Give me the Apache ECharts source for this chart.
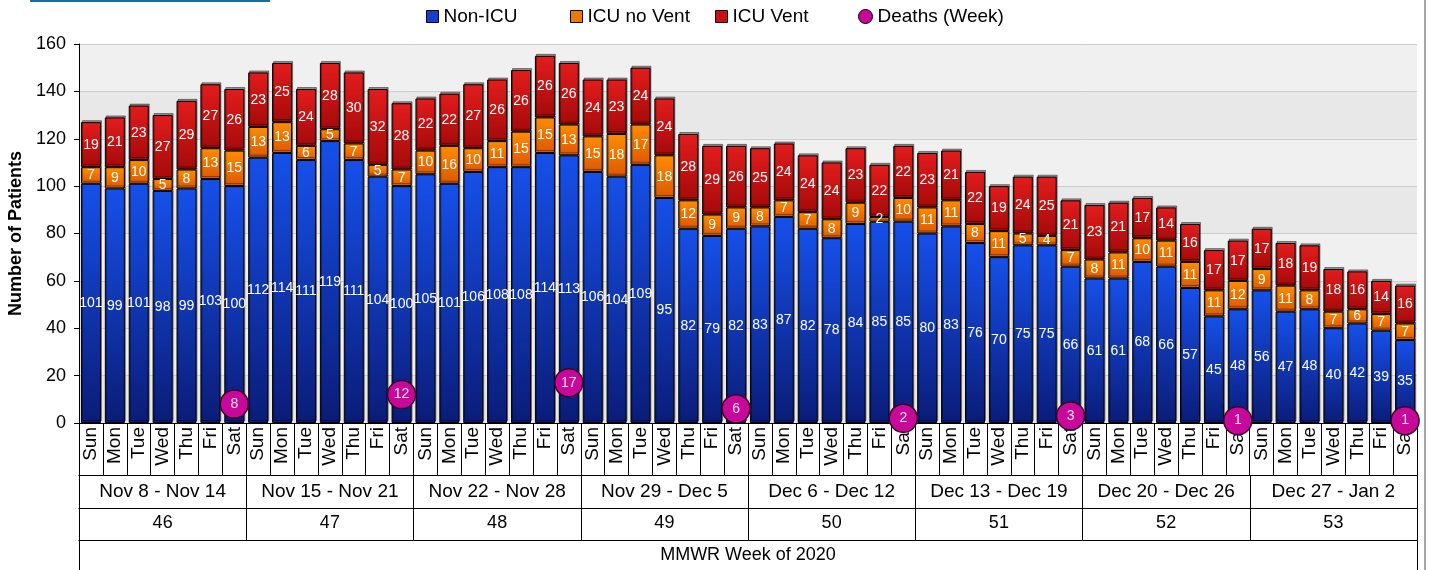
<!DOCTYPE html>
<html>
<head>
<meta charset="utf-8">
<script src="https://cdn.jsdelivr.net/npm/echarts@6/dist/echarts.min.js"></script>
<style>
  html, body { margin: 0; padding: 0; background: #fff; }
  #main { width: 1429px; height: 570px; }
</style>
</head>
<body>
<div id="main"></div>
<script>
// 每周的日期和 MMWR 周号
const days = ['Sun', 'Mon', 'Tue', 'Wed', 'Thu', 'Fri', 'Sat'];
const weekRanges = ['Nov 8 - Nov 14', 'Nov 15 - Nov 21', 'Nov 22 - Nov 28', 'Nov 29 - Dec 5',
  'Dec 6 - Dec 12', 'Dec 13 - Dec 19', 'Dec 20 - Dec 26', 'Dec 27 - Jan 2'];
const mmwrWeeks = ['46', '47', '48', '49', '50', '51', '52', '53'];

const nonIcu = [
  101, 99, 101, 98, 99, 103, 100,
  112, 114, 111, 119, 111, 104, 100,
  105, 101, 106, 108, 108, 114, 113,
  106, 104, 109, 95, 82, 79, 82,
  83, 87, 82, 78, 84, 85, 85,
  80, 83, 76, 70, 75, 75, 66,
  61, 61, 68, 66, 57, 45, 48,
  56, 47, 48, 40, 42, 39, 35
];
const icuNoVent = [
  7, 9, 10, 5, 8, 13, 15,
  13, 13, 6, 5, 7, 5, 7,
  10, 16, 10, 11, 15, 15, 13,
  15, 18, 17, 18, 12, 9, 9,
  8, 7, 7, 8, 9, 2, 10,
  11, 11, 8, 11, 5, 4, 7,
  8, 11, 10, 11, 11, 11, 12,
  9, 11, 8, 7, 6, 7, 7
];
const icuVent = [
  19, 21, 23, 27, 29, 27, 26,
  23, 25, 24, 28, 30, 32, 28,
  22, 22, 27, 26, 26, 26, 26,
  24, 23, 24, 24, 28, 29, 26,
  25, 24, 24, 24, 23, 22, 22,
  23, 21, 22, 19, 24, 25, 21,
  23, 21, 17, 14, 16, 17, 17,
  17, 18, 19, 18, 16, 14, 16
];
// 每周死亡数，画在周六
const deathsWeek = [8, 12, 17, 6, 2, 3, 1, 1];

const dayCats = [];
weekRanges.forEach(function () { days.forEach(function (d) { dayCats.push(d); }); });
const deathsDaily = dayCats.map(function (d, i) {
  return (i % 7 === 6) ? deathsWeek[Math.floor(i / 7)] : '-';
});

function grad(top, bottom) {
  return new echarts.graphic.LinearGradient(0, 0, 0, 1, [
    { offset: 0, color: top },
    { offset: 1, color: bottom }
  ]);
}

const chart = echarts.init(document.getElementById('main'));
const font = 'Liberation Sans, Arial, sans-serif';

function legendItem(name, left, style, icon) {
  return {
    left: left,
    top: 7,
    padding: 0,
    itemWidth: icon === 'circle' ? 14 : 12,
    itemHeight: icon === 'circle' ? 14 : 12,
    itemGap: 0,
    selectedMode: false,
    textStyle: { fontSize: 19, color: '#000', fontFamily: font },
    data: [{ name: name, icon: icon, itemStyle: style }]
  };
}

function rowAxis(data, offset, tickLen, margin, size) {
  return {
    type: 'category',
    data: data,
    position: 'bottom',
    offset: offset,
    axisLine: { show: true, lineStyle: { color: '#000', width: 1 } },
    axisTick: { show: true, interval: 0, length: tickLen, lineStyle: { color: '#000', width: 1 } },
    axisLabel: { interval: 0, margin: margin, fontSize: size, color: '#000', fontFamily: font }
  };
}

function barStyle(top, bottom) {
  return {
    color: grad(top, bottom),
    borderColor: '#000',
    borderWidth: 1,
    shadowColor: 'rgba(0,0,0,0.4)',
    shadowOffsetX: 1,
    shadowOffsetY: -2,
    shadowBlur: 0
  };
}

const optionData = {
  animation: false,
  textStyle: { fontFamily: font },
  legend: [
    legendItem('Non-ICU', 426, { color: '#1440d0', borderColor: '#000', borderWidth: 1 }, 'rect'),
    legendItem('ICU no Vent', 570, { color: '#f07800', borderColor: '#000', borderWidth: 1 }, 'rect'),
    legendItem('ICU Vent', 715, { color: '#c81212', borderColor: '#000', borderWidth: 1 }, 'rect'),
    legendItem('Deaths (Week)', 858, { color: '#c8089a', borderColor: '#000', borderWidth: 1 }, 'circle')
  ],
  grid: { left: 79, right: 12, top: 44, bottom: 147, outerBoundsMode: 'none' },
  xAxis: [
    {
      type: 'category',
      data: dayCats,
      axisLine: { show: true, lineStyle: { color: '#000', width: 1 } },
      axisTick: { show: true, interval: 0, length: 52, lineStyle: { color: '#000', width: 1 } },
      axisLabel: { interval: 0, rotate: 90, margin: 4, fontSize: 19, color: '#000', fontFamily: font }
    },
    rowAxis(weekRanges, 52, 33, 7, 19),
    rowAxis(mmwrWeeks, 85, 32, 6, 18),
    rowAxis(['MMWR Week of 2020'], 117, 32, 6, 18)
  ],
  yAxis: {
    type: 'value',
    min: 0,
    max: 160,
    interval: 20,
    name: 'Number of Patients',
    nameLocation: 'middle',
    nameGap: 52,
    nameTextStyle: { fontSize: 18, fontWeight: 'bold', color: '#000', fontFamily: font },
    axisLine: { show: true, lineStyle: { color: '#000' } },
    axisTick: { show: true, length: 5, lineStyle: { color: '#000' } },
    axisLabel: { fontSize: 18, color: '#000', margin: 13, fontFamily: font },
    splitLine: { show: true, lineStyle: { color: '#cccccc' } },
    splitArea: { show: true, areaStyle: { color: ['#e8e8e8', '#f0f0f0'] } }
  },
  series: [
    {
      name: 'Non-ICU',
      type: 'bar',
      stack: 'total',
      barWidth: 20,
      data: nonIcu,
      itemStyle: barStyle('#1650ea', '#0a1c78'),
      label: { show: true, position: 'inside', color: '#fff', fontSize: 14, fontFamily: font }
    },
    {
      name: 'ICU no Vent',
      type: 'bar',
      stack: 'total',
      barWidth: 20,
      data: icuNoVent,
      itemStyle: barStyle('#ff8c00', '#dc5800'),
      label: { show: true, position: 'inside', color: '#fff', fontSize: 14, fontFamily: font }
    },
    {
      name: 'ICU Vent',
      type: 'bar',
      stack: 'total',
      barWidth: 20,
      data: icuVent,
      itemStyle: barStyle('#e31c1c', '#a50a0a'),
      label: { show: true, position: 'inside', color: '#fff', fontSize: 14, fontFamily: font }
    },
    {
      name: 'Deaths (Week)',
      type: 'scatter',
      data: deathsDaily,
      symbolSize: 28,
      clip: false,
      z: 5,
      itemStyle: { color: '#c8089a', borderColor: '#3a0028', borderWidth: 1.5, opacity: 1 },
      label: { show: true, position: 'inside', color: '#fde6f6', fontSize: 14, fontFamily: font }
    }
  ],
  graphic: [
    { type: 'rect', shape: { x: 30, y: 0, width: 240, height: 2 }, style: { fill: '#1a6e9e' } },
    { type: 'rect', shape: { x: 1424, y: 0, width: 2, height: 570 }, style: { fill: '#a8a8a8' } }
  ]
};

chart.setOption(optionData);
</script>
</body>
</html>
